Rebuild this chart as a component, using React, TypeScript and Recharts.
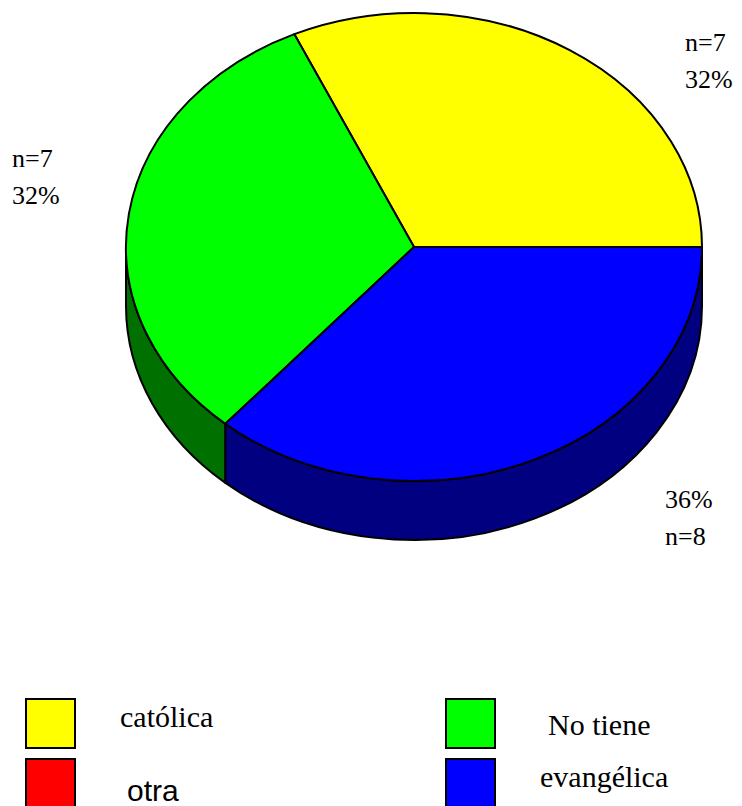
import { Pie, PieChart } from 'recharts';

const CATEGORIES = ['católica', 'No tiene', 'otra', 'evangélica'];
const COUNTS = [7, 7, 0, 8];
const TOP_COLORS = ['#ffff00', '#00ff00', '#ff0000', '#0000ff'];
const SIDE_COLORS = ['#808000', '#007000', '#800000', '#000080'];

// where each slice's "n / %" text sits, and whether the percentage comes first
const LABEL_LAYOUT = [
  { x: 685, y: 51, percentFirst: false },
  { x: 12, y: 167, percentFirst: false },
  { x: 0, y: 0, percentFirst: false },
  { x: 665, y: 508, percentFirst: true }
];

// legend grid: box corner and text baseline for each category
const LEGEND_LAYOUT = [
  { box: [26, 699], text: [120, 727], sans: false },
  { box: [446, 699], text: [548, 735], sans: false },
  { box: [26, 759], text: [127, 801], sans: true },
  { box: [446, 759], text: [540, 787], sans: false }
];

const WIDTH = 742;
const HEIGHT = 806;
const CX = 414;
const CY = 247;
const RX = 288;
const TILT = 234 / 288;
const DEPTH = 59;

const SERIF = '"Liberation Serif", "Times New Roman", serif';
const SANS = '"Liberation Sans", Arial, sans-serif';

const data = CATEGORIES.map((name, i) => ({ name, value: COUNTS[i] }));
const total = COUNTS.reduce((a, b) => a + b, 0);

const pt = (cx: number, cy: number, rx: number, ry: number, deg: number, dy = 0) => {
  const r = (deg * Math.PI) / 180;
  return `${cx + rx * Math.cos(r)},${cy - ry * Math.sin(r) + dy}`;
};

// elliptical slice with its front wall, so the pie reads as a tilted disc
const Slice3D = (props: any) => {
  const { cx, cy, outerRadius, startAngle, endAngle, index } = props;
  if (Math.abs(endAngle - startAngle) < 1e-6) return null;
  const a1 = Math.min(startAngle, endAngle);
  const a2 = Math.max(startAngle, endAngle);
  const rx = outerRadius;
  const ry = outerRadius * TILT;
  const large = a2 - a1 > 180 ? 1 : 0;
  const top = `M${cx},${cy} L${pt(cx, cy, rx, ry, a1)} A${rx},${ry} 0 ${large} 0 ${pt(cx, cy, rx, ry, a2)} Z`;

  const s = Math.max(a1, 180);
  const e = Math.min(a2, 360);
  const side =
    s < e
      ? `M${pt(cx, cy, rx, ry, s)} A${rx},${ry} 0 0 0 ${pt(cx, cy, rx, ry, e)} L${pt(cx, cy, rx, ry, e, DEPTH)} A${rx},${ry} 0 0 1 ${pt(cx, cy, rx, ry, s, DEPTH)} Z`
      : null;

  return (
    <g>
      {side && <path d={side} fill={SIDE_COLORS[index]} stroke="#000" strokeWidth={2} strokeLinejoin="round" />}
      <path d={top} fill={TOP_COLORS[index]} stroke="#000" strokeWidth={2} strokeLinejoin="round" />
    </g>
  );
};

const renderLabel = (props: any) => {
  const { index, value } = props;
  if (!value) return null;
  const layout = LABEL_LAYOUT[index];
  const n = `n=${value}`;
  const pct = `${Math.round((value / total) * 100)}%`;
  const lines = layout.percentFirst ? [pct, n] : [n, pct];
  return (
    <text x={layout.x} y={layout.y} fill="#000" fontFamily={SERIF} fontSize={26}>
      <tspan x={layout.x} y={layout.y}>{lines[0]}</tspan>
      <tspan x={layout.x} y={layout.y + 37}>{lines[1]}</tspan>
    </text>
  );
};

export default function App() {
  return (
    <div style={{ position: 'absolute', left: 0, top: 0, width: WIDTH, height: HEIGHT, background: '#fff' }}>
      <PieChart width={WIDTH} height={HEIGHT} margin={{ top: 0, right: 0, bottom: 0, left: 0 }}>
        <Pie
          data={data}
          dataKey="value"
          nameKey="name"
          cx={CX}
          cy={CY}
          innerRadius={0}
          outerRadius={RX}
          startAngle={0}
          endAngle={360}
          stroke="#000"
          isAnimationActive={false}
          activeShape={Slice3D}
          inactiveShape={Slice3D}
          shape={Slice3D}
          label={renderLabel}
          labelLine={false}
        />
      </PieChart>
      <svg width={WIDTH} height={HEIGHT} style={{ position: 'absolute', left: 0, top: 0, pointerEvents: 'none' }}>
        {CATEGORIES.map((name, i) => {
          const l = LEGEND_LAYOUT[i];
          return (
            <g key={name}>
              <rect x={l.box[0]} y={l.box[1]} width={49} height={49} fill={TOP_COLORS[i]} stroke="#000" strokeWidth={2} />
              <text x={l.text[0]} y={l.text[1]} fontFamily={l.sans ? SANS : SERIF} fontSize={30} fill="#000">
                {name}
              </text>
            </g>
          );
        })}
      </svg>
    </div>
  );
}
